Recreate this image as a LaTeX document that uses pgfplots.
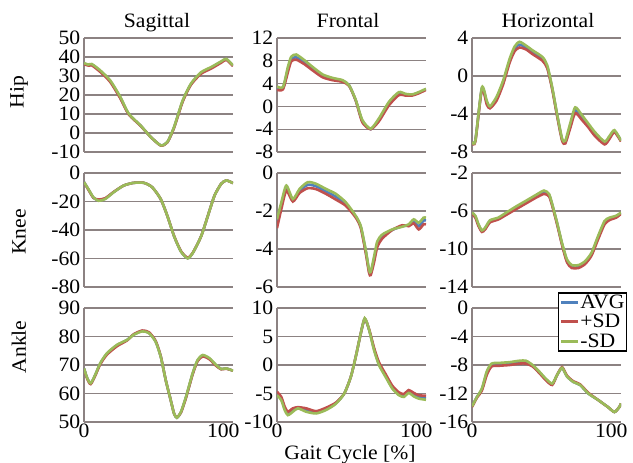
\documentclass[border=0pt]{standalone}
\usepackage{fontspec}
\setmainfont{Liberation Serif}[FakeStretch=1.06]
\usepackage{pgfplots}
\usepackage{pgfplotstable}
\pgfplotsset{compat=1.18}
\definecolor{avgc}{RGB}{79,129,189}
\definecolor{plusc}{RGB}{192,80,77}
\definecolor{minusc}{RGB}{155,187,89}
\definecolor{gridc}{RGB}{140,130,130}
\newcommand\tf{\fontsize{20.5}{22}\selectfont}

\pgfplotstableread{
x a p m
0 36.5 36.2 36.8
3.1 35.8 35.5 36.0
5.6 36.0 35.6 36.3
11.6 32.6 32.2 33.0
18.8 27.3 26.9 27.7
26.1 18.6 18.2 19.0
32.1 10.0 9.8 10.2
40.6 3.9 3.8 4.0
47.8 -2.0 -2.0 -2.0
55.1 -6.5 -6.6 -6.5
59.9 -4.8 -4.9 -4.7
64.7 3.0 2.8 3.2
70.8 16.7 16.4 17.0
76.8 25.7 25.4 26.0
84.1 31.6 31.2 32.0
91.3 34.3 33.9 34.7
98.5 37.4 37.0 37.7
102.2 38.8 38.5 39.0
107 35.4 35.2 35.6
}\hipsag
\pgfplotstableread{
x a p m
0 3.2 2.9 3.5
4.3 3.2 3.0 3.4
7.8 6.5 6.0 6.9
10.2 8.3 7.9 8.7
13.8 8.6 8.2 9.1
19.7 7.8 7.4 8.1
25.7 6.6 6.3 6.9
32.8 5.4 5.1 5.6
39.9 4.8 4.6 5.0
47.1 4.5 4.3 4.6
51.8 3.7 3.6 3.7
56.6 1.0 1.0 1.1
61.3 -2.6 -2.8 -2.4
67.3 -4.0 -4.0 -3.9
73.2 -2.4 -2.6 -2.1
80.4 0.5 0.2 0.8
87.5 2.3 2.0 2.5
92.3 2.0 1.9 2.2
97.0 2.0 1.9 2.1
101.8 2.4 2.3 2.5
107 3.0 2.9 3.1
}\hipfro
\pgfplotstableread{
x a p m
0 -7.0 -7.0 -6.95
2.4 -6.8 -6.9 -6.8
7.1 -1.3 -1.4 -1.2
10.6 -2.8 -3.0 -2.6
12.9 -3.3 -3.4 -3.2
17.6 -2.4 -2.6 -2.2
22.3 -0.7 -0.9 -0.5
27.0 1.6 1.4 1.8
30.6 2.9 2.6 3.1
34.1 3.3 3.0 3.6
38.8 3.0 2.8 3.2
43.5 2.5 2.3 2.7
50.6 1.8 1.6 2.0
54.1 0.9 0.8 1.1
57.6 -1.3 -1.4 -1.2
61.1 -4.1 -4.2 -4.0
64.7 -6.7 -6.8 -6.6
67.0 -7.0 -7.1 -6.8
70.5 -5.3 -5.5 -5.0
74.1 -3.6 -3.9 -3.3
78.8 -4.4 -4.6 -4.1
83.5 -5.2 -5.4 -5.0
88.2 -6.1 -6.3 -5.9
95.2 -7.1 -7.2 -6.9
98.8 -6.5 -6.6 -6.3
102.3 -5.8 -5.9 -5.7
107 -6.8 -6.9 -6.8
}\hiphor
\pgfplotstableread{
x a p m
0 -6.4 -6.6 -6.4
3.1 -11.4 -11.6 -11.2
6.8 -17.4 -17.4 -17.1
10.4 -19.0 -18.6 -19.5
15.2 -18.0 -17.7 -18.3
21.3 -13.4 -13.3 -13.5
28.5 -8.8 -8.8 -8.8
35.7 -6.9 -6.9 -6.9
43.0 -6.9 -6.9 -6.9
49.0 -10 -10 -10
55.1 -18.3 -18.3 -18.3
59.9 -30.2 -30.2 -30.2
64.7 -44.4 -44.2 -44.4
69.6 -55.0 -54.8 -55.1
74.4 -59.8 -59.5 -59.9
78.0 -56.3 -56.2 -56.3
84.1 -44.4 -44.4 -44.4
88.9 -30.2 -30.2 -30.2
93.7 -15.9 -15.9 -15.9
98.5 -7.6 -7.6 -7.6
102.2 -5.2 -5.2 -5.2
107 -7.1 -7.1 -7.1
}\kneesag
\pgfplotstableread{
x a p m
0 -2.65 -2.9 -2.44
3.1 -1.7 -1.9 -1.55
6.7 -0.8 -0.93 -0.66
11.4 -1.45 -1.5 -1.37
16.2 -0.95 -1.05 -0.84
22.1 -0.62 -0.8 -0.48
28.1 -0.7 -0.85 -0.57
35.2 -0.97 -1.1 -0.84
42.3 -1.25 -1.4 -1.1
49.5 -1.65 -1.73 -1.55
56.6 -2.3 -2.35 -2.26
60.2 -2.85 -2.9 -2.8
63.7 -4.1 -4.2 -4.04
66.1 -5.15 -5.25 -5.1
67.3 -5.3 -5.37 -5.2
69.7 -4.55 -4.7 -4.4
72.0 -3.75 -3.9 -3.6
75.6 -3.35 -3.45 -3.24
82.7 -3.0 -3.0 -2.97
89.9 -2.8 -2.75 -2.83
94.6 -2.75 -2.8 -2.7
98.2 -2.55 -2.65 -2.44
101.8 -2.8 -2.97 -2.62
105.3 -2.5 -2.7 -2.35
107 -2.5 -2.7 -2.35
}\kneefro
\pgfplotstableread{
x a p m
0 -6.2 -6.3 -6.16
2.4 -6.6 -6.7 -6.5
4.7 -7.5 -7.6 -7.4
7.1 -8.1 -8.2 -8.05
9.4 -7.85 -7.95 -7.76
12.9 -7.1 -7.2 -6.98
18.8 -6.8 -6.9 -6.7
24.7 -6.3 -6.4 -6.16
31.7 -5.65 -5.8 -5.52
38.8 -5.05 -5.2 -4.92
45.9 -4.45 -4.6 -4.31
51.7 -4.0 -4.2 -3.85
55.3 -4.3 -4.45 -4.2
57.6 -5.35 -5.45 -5.27
61.1 -7.3 -7.4 -7.23
64.7 -9.5 -9.6 -9.4
68.2 -11.25 -11.4 -11.1
71.7 -11.85 -12.0 -11.7
76.4 -11.85 -12.0 -11.7
81.1 -11.45 -11.6 -11.3
85.8 -10.55 -10.7 -10.4
90.5 -8.8 -9.0 -8.65
95.2 -7.2 -7.4 -7.05
98.8 -6.8 -6.95 -6.7
103.5 -6.6 -6.7 -6.5
107 -6.2 -6.3 -6.16
}\kneehor
\pgfplotstableread{
x a p m
0 68.8 68.6 68.8
2.4 65.3 65.0 65.3
4.8 63.5 63.3 63.6
8.0 66.4 66.2 66.5
11.6 70.4 70.2 70.6
16.4 73.9 73.6 74.1
23.7 76.9 76.6 77.1
30.9 78.8 78.6 78.8
35.7 80.7 80.8 80.6
41.8 81.9 82.1 81.8
46.6 81.3 81.5 81.2
51.4 78.3 78.5 78.2
55.1 73.0 73.1 72.9
58.7 64.7 64.7 64.7
62.3 57.6 57.6 57.6
64.7 52.9 52.9 52.9
66.7 51.5 51.6 51.5
69.6 53.4 53.3 53.5
73.2 58.6 58.4 58.8
78.0 66.9 66.7 67.1
81.6 71.6 71.4 71.8
85.3 73.3 73.0 73.5
90.1 72.2 72.0 72.4
94.9 69.9 69.7 70.0
98.5 68.6 68.5 68.6
102.2 68.8 68.7 68.8
107 68.0 68.0 68.0
}\anksag
\pgfplotstableread{
x a p m
0 -5.0 -4.7 -5.3
3.1 -5.9 -5.6 -6.2
5.5 -7.6 -7.3 -7.9
7.8 -8.5 -8.2 -8.8
11.4 -7.9 -7.6 -8.2
15.0 -7.5 -7.4 -7.6
20.9 -7.9 -7.6 -8.2
28.1 -8.3 -8.1 -8.5
35.2 -7.7 -7.5 -7.9
42.3 -6.7 -6.6 -6.8
48.3 -5.0 -5.0 -5.0
53.0 -2.1 -2.1 -2.1
56.6 1.5 1.5 1.5
60.2 5.6 5.6 5.6
63.0 8.1 8.1 8.2
66.1 6.2 6.3 6.2
69.7 2.8 3.0 2.6
73.2 0.2 0.5 0.0
78.0 -1.9 -1.6 -2.1
82.7 -3.9 -3.6 -4.1
87.5 -5.05 -4.8 -5.3
91.1 -5.35 -5.1 -5.6
94.6 -4.65 -4.4 -4.9
98.2 -5.2 -4.9 -5.5
101.8 -5.6 -5.3 -5.9
107 -5.75 -5.4 -6.1
}\ankfro
\pgfplotstableread{
x a p m
0 -13.8 -13.9 -13.8
3.5 -12.5 -12.6 -12.5
7.1 -11.4 -11.6 -11.3
10.6 -9.1 -9.4 -8.9
14.1 -8.0 -8.2 -7.8
20.0 -7.9 -8.1 -7.7
27.0 -7.8 -8.0 -7.6
34.1 -7.6 -7.8 -7.4
38.8 -7.6 -7.8 -7.4
43.5 -8.1 -8.2 -8.0
48.2 -9.0 -9.1 -8.9
52.9 -10.0 -10.1 -9.9
57.6 -10.7 -10.8 -10.6
61.1 -9.4 -9.4 -9.4
64.7 -8.4 -8.3 -8.4
68.2 -9.6 -9.5 -9.6
72.9 -10.4 -10.3 -10.4
77.6 -10.8 -10.7 -10.8
83.5 -12.0 -11.9 -12.0
90.5 -12.9 -12.9 -12.9
97.6 -13.9 -13.9 -13.9
102.3 -14.6 -14.6 -14.6
105.8 -13.9 -13.9 -13.9
107 -13.4 -13.4 -13.4
}\ankhor

\pgfplotsset{
  panel/.style={
    scale only axis, width=149bp, height=114bp,
    xmin=0, xmax=107,
    axis x line*=bottom, axis y line*=left,
    x axis line style={draw=none},
    y axis line style={draw=gridc, line width=1.2pt},
    major tick length=0pt,
    ymajorgrids, major grid style={draw=gridc, line width=1.2pt},
    xtick={0,100}, xticklabels={},
    yticklabel style={font=\tf, inner sep=0pt, xshift=-3.5bp},
    xticklabel style={font=\tf, inner sep=0pt, yshift=-2bp},
    anchor=south west,
  },
  xlab/.style={xticklabels={0,100}},
  pa/.style={avgc, line width=2.6pt, smooth, tension=0.4},
  pp/.style={plusc, line width=2.6pt, smooth, tension=0.4},
  pm/.style={minusc, line width=2.6pt, smooth, tension=0.4},
}

\begin{document}
\begin{tikzpicture}
\useasboundingbox (0bp,0bp) rectangle (633bp,463bp);

% Row 1
\begin{axis}[panel, at={(84bp,311bp)}, ymin=-10, ymax=50, ytick={-10,0,10,20,30,40,50}, yticklabels={-10,0,10,20,30,40,50}]
\addplot[pa] table[x=x,y=a]{\hipsag};
\addplot[pp] table[x=x,y=p]{\hipsag};
\addplot[pm] table[x=x,y=m]{\hipsag};
\end{axis}
\begin{axis}[panel, at={(277bp,311bp)}, ymin=-8, ymax=12, ytick={-8,-4,0,4,8,12}, yticklabels={-8,-4,0,4,8,12}]
\addplot[pa] table[x=x,y=a]{\hipfro};
\addplot[pp] table[x=x,y=p]{\hipfro};
\addplot[pm] table[x=x,y=m]{\hipfro};
\end{axis}
\begin{axis}[panel, at={(472bp,311bp)}, ymin=-8, ymax=4, ytick={-8,-4,0,4}, yticklabels={-8,-4,0,4}]
\addplot[pa] table[x=x,y=a]{\hiphor};
\addplot[pp] table[x=x,y=p]{\hiphor};
\addplot[pm] table[x=x,y=m]{\hiphor};
\end{axis}

% Row 2
\begin{axis}[panel, at={(84bp,176bp)}, ymin=-80, ymax=0, ytick={-80,-60,-40,-20,0}, yticklabels={-80,-60,-40,-20,0}]
\addplot[pa] table[x=x,y=a]{\kneesag};
\addplot[pp] table[x=x,y=p]{\kneesag};
\addplot[pm] table[x=x,y=m]{\kneesag};
\end{axis}
\begin{axis}[panel, at={(277bp,176bp)}, ymin=-6, ymax=0, ytick={-6,-4,-2,0}, yticklabels={-6,-4,-2,0}]
\addplot[pa] table[x=x,y=a]{\kneefro};
\addplot[pp] table[x=x,y=p]{\kneefro};
\addplot[pm] table[x=x,y=m]{\kneefro};
\end{axis}
\begin{axis}[panel, at={(472bp,176bp)}, ymin=-14, ymax=-2, ytick={-14,-10,-6,-2}, yticklabels={-14,-10,-6,-2}]
\addplot[pa] table[x=x,y=a]{\kneehor};
\addplot[pp] table[x=x,y=p]{\kneehor};
\addplot[pm] table[x=x,y=m]{\kneehor};
\end{axis}

% Row 3
\begin{axis}[panel, xlab, at={(84bp,41bp)}, ymin=50, ymax=90, ytick={50,60,70,80,90}, yticklabels={50,60,70,80,90}]
\addplot[pa] table[x=x,y=a]{\anksag};
\addplot[pp] table[x=x,y=p]{\anksag};
\addplot[pm] table[x=x,y=m]{\anksag};
\end{axis}
\begin{axis}[panel, xlab, at={(277bp,41bp)}, ymin=-10, ymax=10, ytick={-10,-5,0,5,10}, yticklabels={-10,-5,0,5,10}]
\addplot[pa] table[x=x,y=a]{\ankfro};
\addplot[pp] table[x=x,y=p]{\ankfro};
\addplot[pm] table[x=x,y=m]{\ankfro};
\end{axis}
\begin{axis}[panel, xlab, at={(472bp,41bp)}, ymin=-16, ymax=0, ytick={-16,-12,-8,-4,0}, yticklabels={-16,-12,-8,-4,0},
  legend style={at={(0.577,1.14)}, anchor=north west, draw=black, line width=1.5pt, fill=white, font=\tf,
    inner sep=1pt, row sep=2.5pt, nodes={inner sep=1pt}},
  legend cell align=left,
  legend image code/.code={\draw[#1] (0bp,0bp) -- (17bp,0bp);}]
\addplot[pa] table[x=x,y=a]{\ankhor};
\addplot[pp] table[x=x,y=p]{\ankhor};
\addplot[pm] table[x=x,y=m]{\ankhor};
\legend{AVG,+SD,-SD}
\end{axis}

% Titles and labels
\node[font=\tf, anchor=base] at (157bp,435bp) {Sagittal};
\node[font=\tf, anchor=base] at (348bp,435bp) {Frontal};
\node[font=\tf, anchor=base] at (548bp,435bp) {Horizontal};
\node[font=\tf, rotate=90] at (19bp,371bp) {Hip};
\node[font=\tf, rotate=90] at (19bp,231bp) {Knee};
\node[font=\tf, rotate=90] at (19bp,116bp) {Ankle};
\node[font=\tf, anchor=base] at (350bp,4bp) {Gait Cycle [\%]};
\end{tikzpicture}
\end{document}
